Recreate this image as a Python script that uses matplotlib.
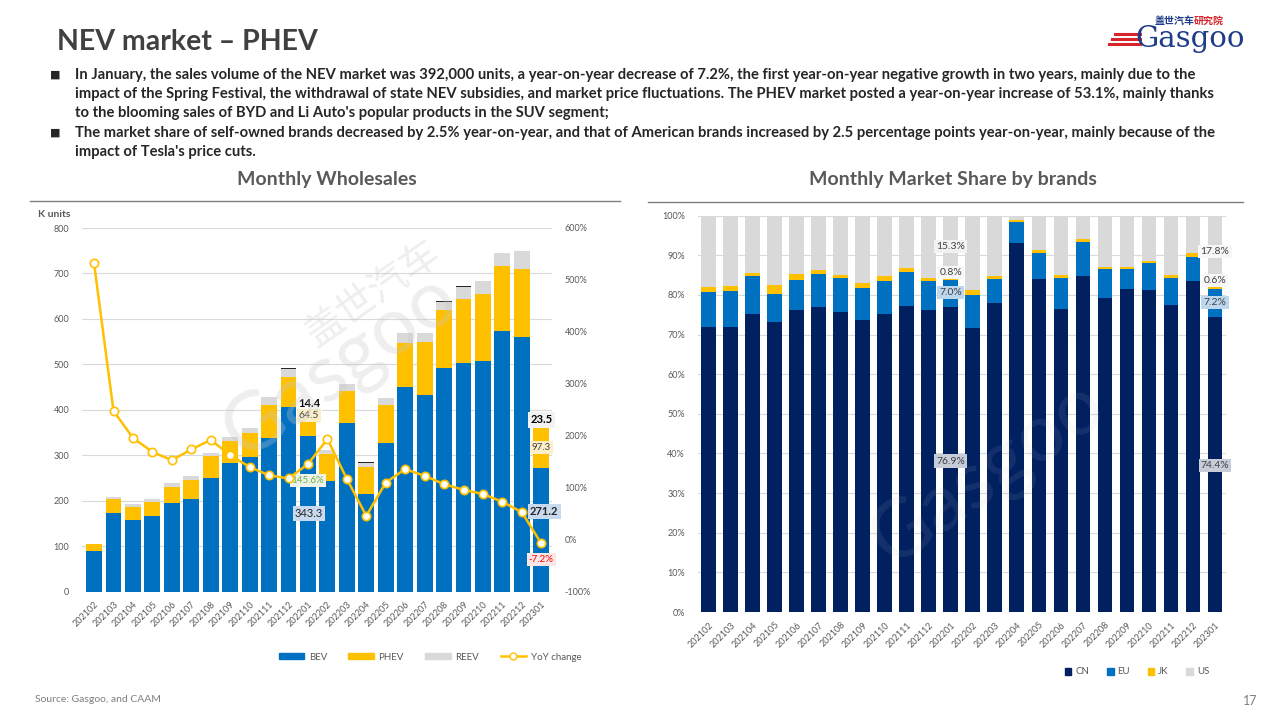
import numpy as np
import matplotlib
matplotlib.use('Agg')
import matplotlib.pyplot as plt
from matplotlib.lines import Line2D
from matplotlib.patches import Patch

plt.rcParams['font.family'] = ['Lato', 'DejaVu Sans']

# ===== Data =====
months = ['202102', '202103', '202104', '202105', '202106', '202107', '202108', '202109',
          '202110', '202111', '202112', '202201', '202202', '202203', '202204', '202205',
          '202206', '202207', '202208', '202209', '202210', '202211', '202212', '202301']

# wholesales, K units
bev = [89, 174, 157, 166, 196, 205, 251, 282, 297, 339, 407, 343.3,
       243, 372, 214, 327, 450, 432, 493, 502, 508, 574, 561, 271.2]
phev = [16, 31, 29, 32, 35, 41, 47, 50, 53, 72, 65, 64.5,
        59, 70, 60, 83, 98, 118, 127, 142, 147, 142, 149, 97.3]
reev = [0, 4, 6, 5, 9, 9, 8, 9, 10, 17, 18, 14.4,
        10, 15, 9, 17, 21, 19, 18, 27, 28, 28, 39, 23.5]
other = [0, 0, 0, 0, 0, 0, 0, 0, 0, 0, 1.5, 0,
         0, 0, 1.5, 0, 0, 0, 1.5, 1.5, 1.5, 1.5, 0, 0]
yoy = [532, 248, 196, 169, 153, 174, 192, 163, 140, 124, 118, 145.6,
       194, 117, 46, 110, 136, 123, 107, 96, 88, 73, 53, -7.2]

# market share by brands, %
share_cn = [71.8, 71.8, 75.1, 73.1, 76.1, 76.9, 75.6, 73.8, 75.1, 77.1, 76.1, 76.9,
            71.6, 77.9, 93.1, 84.0, 76.4, 84.7, 79.2, 81.4, 81.2, 77.4, 83.5, 74.4]
share_eu = [8.9, 9.3, 9.6, 7.1, 7.6, 8.3, 8.6, 7.9, 8.4, 8.6, 7.4, 7.0,
            8.3, 6.1, 5.3, 6.5, 7.9, 8.6, 7.3, 5.1, 6.8, 6.8, 6.0, 7.2]
share_jk = [1.2, 1.1, 0.9, 2.2, 1.5, 1.1, 0.9, 1.3, 1.2, 1.1, 0.7, 0.8,
            1.3, 0.7, 0.6, 0.8, 0.8, 0.8, 0.6, 0.6, 0.6, 0.8, 1.0, 0.6]
share_us = [18.1, 17.8, 14.4, 17.6, 14.8, 13.7, 14.9, 17.0, 15.3, 13.2, 15.8, 15.3,
            18.8, 15.3, 1.0, 8.7, 14.9, 5.9, 12.9, 12.9, 11.4, 15.0, 9.5, 17.8]

c_bev, c_phev, c_reev = '#0070C0', '#FFC000', '#D9D9D9'
c_cn, c_eu, c_jk, c_us = '#002060', '#0070C0', '#FFC000', '#D9D9D9'
grey_txt = '#595959'
grid_c = '#D9D9D9'

fig = plt.figure(figsize=(12.8, 7.2), dpi=100)

def fx(px):
  return px / 1280

def fy(py):
  return 1 - py / 720

# ===== Header =====
fig.text(fx(57), fy(42), 'NEV market \u2013 PHEV', fontsize=20.5, weight='bold', color='#404040', va='center')

lines = [
  (75, "In January, the sales volume of the NEV market was 392,000 units, a year-on-year decrease of 7.2%, the first year-on-year negative growth in two years, mainly due to the", True),
  (94, "impact of the Spring Festival, the withdrawal of state NEV subsidies, and market price fluctuations. The PHEV market posted a year-on-year increase of 53.1%, mainly thanks", False),
  (113, "to the blooming sales of BYD and Li Auto's popular products in the SUV segment;", False),
  (133, "The market share of self-owned brands decreased by 2.5% year-on-year, and that of American brands increased by 2.5 percentage points year-on-year, mainly because of the", True),
  (152, "impact of Tesla's price cuts.", False),
]
for py, txt, bullet in lines:
  if bullet:
    fig.text(fx(50), fy(py), '\u25A0', fontsize=8, color='#262626', va='center', family='DejaVu Sans')
  fig.text(fx(75), fy(py), txt, fontsize=10.6, weight='bold', color='#262626', va='center')

# logo
fig.text(fx(1155), fy(21), '盖世汽车', fontsize=7.2, weight='bold', color='#1F3C88', va='center',
         family=['Noto Sans CJK SC', 'DejaVu Sans'])
fig.text(fx(1194), fy(21), '研究院', fontsize=7.2, weight='bold', color='#D7262B', va='center',
         family=['Noto Sans CJK SC', 'DejaVu Sans'])
fig.text(fx(1135), fy(39), 'Gasgoo', fontsize=21, color='#1F3C88', va='center', family='DejaVu Serif')
for k in range(3):
  fig.add_artist(Line2D([fx(1115 - 3 * k), fx(1140)], [fy(34 + 5 * k)] * 2, color='#D7262B', lw=2.2))

# section titles
fig.text(fx(327), fy(179), 'Monthly Wholesales', fontsize=14, weight='bold', color=grey_txt, ha='center', va='center')
fig.text(fx(953), fy(179), 'Monthly Market Share by brands', fontsize=14, weight='bold', color=grey_txt, ha='center', va='center')
fig.add_artist(Line2D([fx(30), fx(620)], [fy(201)] * 2, color='#7F7F7F', lw=1))
fig.add_artist(Line2D([fx(648), fx(1243)], [fy(202)] * 2, color='#7F7F7F', lw=1))

fig.text(fx(35), fy(699), 'Source: Gasgoo, and CAAM', fontsize=7.5, color='#7F7F7F', va='center')
fig.text(fx(1250), fy(701), '17', fontsize=9, color='#7F7F7F', va='center', ha='center')

x = np.arange(len(months))

# ===== Left chart: wholesales =====
ax1 = fig.add_axes([fx(82), fy(591.7), fx(552 - 82), (591.7 - 228) / 720])
b1 = np.array(bev)
b2 = b1 + np.array(phev)
b3 = b2 + np.array(reev)
ax1.bar(x, bev, 0.82, color=c_bev, zorder=2)
ax1.bar(x, phev, 0.82, bottom=b1, color=c_phev, zorder=2)
ax1.bar(x, reev, 0.82, bottom=b2, color=c_reev, zorder=2)
ax1.bar(x, other, 0.82, bottom=b3, color='#262626', zorder=2)
ax1.set_ylim(0, 800)
ax1.set_xlim(-0.62, 23.55)
ax1.set_yticks(range(0, 801, 100))
ax1.yaxis.grid(True, color=grid_c, lw=0.8, zorder=0)
ax1.set_axisbelow(True)
ax1.set_xticks(x)
ax1.set_xticklabels(months, rotation=45, ha='right', rotation_mode='anchor', fontsize=6.5, color=grey_txt)
ax1.tick_params(axis='both', length=0, labelsize=6.5, labelcolor=grey_txt)
ax1.tick_params(axis='y', pad=9)
ax1.tick_params(axis='x', pad=6)
for s in ax1.spines.values():
  s.set_visible(False)
fig.text(fx(38), fy(214), 'K units', fontsize=7.5, weight='bold', color=grey_txt, va='center')

ax2 = ax1.twinx()
ax2.plot(x, yoy, color=c_phev, lw=1.8, marker='o', ms=6, mfc='white', mec=c_phev, mew=1.2, zorder=3)
ax2.set_ylim(-100, 600)
ax2.set_yticks(range(-100, 601, 100))
ax2.set_yticklabels([f'{v}%' for v in range(-100, 601, 100)])
ax2.tick_params(axis='y', length=0, labelsize=6.5, labelcolor=grey_txt, pad=9)
for s in ax2.spines.values():
  s.set_visible(False)

# watermark
ax2.text(0.55, 0.62, 'Gasgoo', transform=ax1.transAxes, fontsize=58, rotation=35, color='#C8C8C8',
         alpha=0.3, ha='center', va='center', zorder=5)
ax2.text(0.62, 0.82, '盖世汽车', transform=ax1.transAxes, fontsize=28, rotation=35, color='#C8C8C8',
         alpha=0.3, ha='center', va='center', zorder=5, family=['Noto Sans CJK SC', 'DejaVu Sans'])

# data labels
def lab(ax, xv, yv, txt, fc, color='#262626', bold=False, size=7.5):
  ax.text(xv, yv, txt, ha='center', va='center', fontsize=size, color=color,
          weight='bold' if bold else 'normal', zorder=6,
          bbox=dict(boxstyle='square,pad=0.2', fc=fc, ec='none'))

lab(ax1, 11.05, 414, f'{reev[11]}', 'white', '#000000', True, 8)
lab(ax1, 11.05, 388, f'{phev[11]}', '#FCEFC8', '#404040', False, 7.5)
lab(ax1, 11.05, 172, f'{bev[11]}', '#C9DAEE', '#262626', False, 8)
lab(ax1, 11.0, 245, f'{yoy[11]}%', '#EEF3EA', '#70AD47', False, 7)
lab(ax1, 23.0, 378, f'{reev[23]}', '#F2F2F2', '#000000', True, 8)
lab(ax1, 23.0, 317, f'{phev[23]}', '#FCEFC8', '#404040', False, 7)
lab(ax1, 23.15, 177, f'{bev[23]}', '#C9DAEE', '#262626', True, 8)
lab(ax1, 23.0, 71, f'{yoy[23]}%', '#FBE5E5', '#FF0000', False, 7)

handles = [Patch(color=c_bev), Patch(color=c_phev), Patch(color=c_reev),
           Line2D([0], [0], color=c_phev, lw=1.8, marker='o', ms=5, mfc='white', mec=c_phev)]
fig.legend(handles, ['BEV', 'PHEV', 'REEV', 'YoY change'], loc='center', ncol=4,
           bbox_to_anchor=(fx(430), fy(657)), frameon=False, fontsize=7, labelcolor=grey_txt,
           handlelength=2.6, handleheight=0.55, columnspacing=2.2, handletextpad=0.5)

# ===== Right chart: market share =====
ax3 = fig.add_axes([fx(697.5), fy(612), fx(1226 - 697.5), (612 - 215.7) / 720])
s1 = np.array(share_cn)
s2 = s1 + np.array(share_eu)
s3 = s2 + np.array(share_jk)
tot = s3 + np.array(share_us)
ax3.bar(x, s1 / tot * 100, 0.665, color=c_cn, zorder=2)
ax3.bar(x, np.array(share_eu) / tot * 100, 0.665, bottom=s1 / tot * 100, color=c_eu, zorder=2)
ax3.bar(x, np.array(share_jk) / tot * 100, 0.665, bottom=s2 / tot * 100, color=c_jk, zorder=2)
ax3.bar(x, np.array(share_us) / tot * 100, 0.665, bottom=s3 / tot * 100, color=c_us, zorder=2)
ax3.set_ylim(0, 100)
ax3.set_xlim(-0.5, 23.5)
ax3.set_yticks(range(0, 101, 10))
ax3.set_yticklabels([f'{v}%' for v in range(0, 101, 10)])
ax3.yaxis.grid(True, color=grid_c, lw=0.8, zorder=0)
ax3.set_axisbelow(True)
ax3.set_xticks(x)
ax3.set_xticklabels(months, rotation=45, ha='right', rotation_mode='anchor', fontsize=6.5, color=grey_txt)
ax3.tick_params(axis='both', length=0, labelsize=6.5, labelcolor=grey_txt)
ax3.tick_params(axis='y', pad=9)
ax3.tick_params(axis='x', pad=6)
for s in ax3.spines.values():
  s.set_visible(False)

ax3.text(0.55, 0.35, 'Gasgoo', transform=ax3.transAxes, fontsize=58, rotation=35, color='#C8C8C8',
         alpha=0.1, ha='center', va='center', zorder=5)

lab(ax3, 11, 92.2, f'{share_us[11]}%', '#F2F2F2', '#404040', False, 7.5)
lab(ax3, 11, 85.6, f'{share_jk[11]}%', '#F7F7F7', '#404040', False, 7.5)
lab(ax3, 11, 80.6, f'{share_eu[11]}%', '#BDD7EE', '#404040', False, 7.5)
lab(ax3, 11, 38.1, f'{share_cn[11]}%', '#C7CCD9', '#404040', False, 7.5)
lab(ax3, 23, 90.9, f'{share_us[23]}%', '#F7F7F7', '#404040', False, 7.5)
lab(ax3, 23, 83.6, f'{share_jk[23]}%', '#F7F7F7', '#404040', False, 7.5)
lab(ax3, 23, 78.0, f'{share_eu[23]}%', '#BDD7EE', '#404040', False, 7.5)
lab(ax3, 23, 36.9, f'{share_cn[23]}%', '#C7CCD9', '#404040', False, 7.5)

handles2 = [Patch(color=c) for c in (c_cn, c_eu, c_jk, c_us)]
fig.legend(handles2, ['CN', 'EU', 'JK', 'US'], loc='center', ncol=4,
           bbox_to_anchor=(fx(1137), fy(672)), frameon=False, fontsize=7, labelcolor=grey_txt,
           handlelength=0.7, handleheight=0.7, columnspacing=1.8, handletextpad=0.4)

fig.savefig('out.png', dpi=100)
